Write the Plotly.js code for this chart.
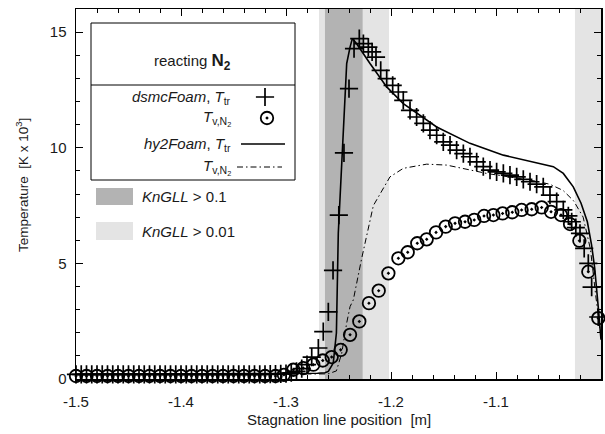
<!DOCTYPE html>
<html>
<head>
<meta charset="utf-8">
<script src="https://cdn.plot.ly/plotly-3.0.1.min.js"></script>
<style>html,body{margin:0;padding:0;background:#fff}#chart{width:605px;height:434px}</style>
</head>
<body>
<div id="chart"></div>
<script>
// ---- data (temperatures in K x 10^3, position in m) ----
const dsmcTtrX = [-1.500,-1.495,-1.490,-1.485,-1.480,-1.475,-1.470,-1.465,-1.460,-1.455,-1.450,-1.445,-1.440,-1.435,-1.430,-1.425,-1.420,-1.415,-1.410,-1.405,-1.400,-1.395,-1.390,-1.385,-1.380,-1.375,-1.370,-1.365,-1.360,-1.355,-1.350,-1.345,-1.340,-1.335,-1.330,-1.325,-1.320,-1.315,-1.310,-1.305,-1.300,
  -1.295,-1.290,-1.285,-1.280,-1.2755,-1.2692,-1.2645,-1.2597,-1.2552,-1.2497,-1.2448,-1.2400,-1.2352,-1.2302,-1.2263,-1.2216,-1.2180,-1.2143,-1.2098,-1.2041,-1.1984,-1.1930,-1.1883,-1.1819,-1.1756,-1.1692,-1.1629,-1.1565,-1.1502,-1.1438,-1.1375,-1.1311,-1.1248,-1.1184,-1.1121,-1.1057,-1.0994,-1.0930,-1.0867,-1.0803,-1.0740,-1.0676,-1.0613,-1.0550,-1.0486,-1.0422,-1.0359,-1.0311,-1.0279,-1.0240,-1.0200,-1.0160,-1.0121,-1.0089,-1.0026];
const dsmcTtrY = [0.20,0.20,0.20,0.20,0.20,0.20,0.20,0.20,0.20,0.20,0.20,0.20,0.20,0.20,0.20,0.20,0.20,0.20,0.20,0.20,0.20,0.20,0.20,0.20,0.20,0.20,0.20,0.20,0.20,0.20,0.20,0.20,0.20,0.20,0.20,0.20,0.20,0.21,0.21,0.22,0.23,
  0.27,0.33,0.45,0.62,0.95,1.34,2.05,2.90,4.70,7.09,9.78,12.56,14.29,14.72,14.50,14.35,14.15,13.92,13.35,12.99,12.70,12.41,12.05,11.62,11.33,11.05,10.76,10.54,10.25,10.11,9.90,9.75,9.61,9.39,9.18,9.03,8.96,8.89,8.82,8.74,8.63,8.53,8.43,8.31,7.95,7.67,7.31,7.05,6.80,6.55,6.30,5.65,5.00,3.97,2.68];

const dsmcTvX = [-1.50,-1.49,-1.48,-1.47,-1.46,-1.45,-1.44,-1.43,-1.42,-1.41,-1.40,-1.39,-1.38,-1.37,-1.36,-1.35,-1.34,-1.33,-1.32,-1.31,
  -1.302,-1.293,-1.2835,-1.274,-1.265,-1.2565,-1.2479,-1.239,-1.2302,-1.221,-1.2117,-1.2025,-1.193,-1.1841,-1.175,-1.166,-1.1571,-1.1479,-1.139,-1.1295,-1.1207,-1.1114,-1.1025,-1.0937,-1.0845,-1.0756,-1.066,-1.0565,-1.0476,-1.0381,-1.0295,-1.0206,-1.0121,-1.0026];
const dsmcTvY = [0.13,0.13,0.13,0.13,0.13,0.13,0.13,0.13,0.13,0.13,0.13,0.13,0.13,0.13,0.13,0.13,0.13,0.13,0.13,0.13,
  0.18,0.40,0.47,0.62,0.80,0.95,1.26,1.91,2.49,3.28,3.82,4.57,5.22,5.48,5.87,6.04,6.34,6.59,6.73,6.80,6.88,7.05,7.09,7.16,7.21,7.31,7.34,7.42,7.23,7.09,6.70,5.98,4.64,2.63];

const hy2TtrX = [-1.5,-1.30,-1.27,-1.2629,-1.2597,-1.255,-1.252,-1.2502,-1.247,-1.2422,-1.239,-1.2368,-1.2327,-1.22,-1.2041,-1.1883,-1.1565,-1.1248,-1.093,-1.0613,-1.0454,-1.0359,-1.0264,-1.019,-1.013,-1.009,-1.006,-1.003,-1.0];
const hy2TtrY = [0.20,0.22,0.25,0.27,0.33,0.69,1.99,6.30,9.03,13.64,14.35,14.72,14.50,13.64,12.63,11.91,10.90,10.19,9.68,9.35,9.18,8.89,8.31,7.60,6.80,5.80,4.80,3.30,1.70];

const hy2TvX = [-1.5,-1.26,-1.252,-1.247,-1.2422,-1.239,-1.2359,-1.228,-1.2168,-1.2137,-1.201,-1.1883,-1.166,-1.147,-1.1248,-1.1089,-1.0613,-1.0486,-1.036,-1.026,-1.017,-1.010,-1.005,-1.0];
const hy2TvY = [0.20,0.22,0.35,1.10,2.42,3.13,3.42,5.20,7.50,7.74,8.74,9.11,9.29,9.25,9.03,8.89,8.55,8.42,8.15,7.70,7.00,5.60,3.60,1.80];

const knAbove01 = [[-1.2629, -1.2270]];
const knAbove001 = [[-1.2686, -1.2019], [-1.0248, -1.0]];

const xTickVals = [-1.5, -1.4, -1.3, -1.2, -1.1, -1.0];
const xTickText = ['-1.5', '-1.4', '-1.3', '-1.2', '-1.1', '-1'];
const yTickVals = [0, 5, 10, 15];
const yTickText = ['0', '5', '10', '15'];

// ---- styling ----
const FONT = 'Liberation Sans, Arial, Helvetica, sans-serif';
const TXT = '#1a1a1a';
const DARK = '#b3b3b3';
const LIGHT = '#e4e4e4';

// plot area in px: left 76, right 601, top 9, bottom 379
const L = 76, R = 601, T = 9, B = 379;
const px = v => (v - L) / (R - L);
const py = v => (B - v) / (B - T);

const plusMarker = {symbol: 'cross-thin-open', size: 13, color: '#000', line: {color: '#000', width: 1.7}};
const circMarker = {symbol: 'circle-open-dot', size: 12.5, color: '#000', line: {color: '#000', width: 1.8}};
const DASHDOT = '6px,3px,1.5px,3px';

const traces = [
  {x: hy2TtrX, y: hy2TtrY, mode: 'lines', line: {color: '#000', width: 1.6}, cliponaxis: false, hoverinfo: 'skip'},
  {x: hy2TvX, y: hy2TvY, mode: 'lines', line: {color: '#000', width: 1, dash: DASHDOT}, cliponaxis: false, hoverinfo: 'skip'},
  {x: dsmcTvX, y: dsmcTvY, mode: 'markers', marker: circMarker, cliponaxis: false},
  {x: dsmcTtrX, y: dsmcTtrY, mode: 'markers', marker: plusMarker, cliponaxis: false},
  // legend sample markers (overlay axes in plot-fraction units)
  {x: [px(265)], y: [py(97)], xaxis: 'x2', yaxis: 'y2', mode: 'markers', marker: plusMarker, cliponaxis: false},
  {x: [px(267)], y: [py(118)], xaxis: 'x2', yaxis: 'y2', mode: 'markers', marker: circMarker, cliponaxis: false}
];

const shapes = [];
knAbove001.forEach(b => shapes.push({type: 'rect', xref: 'x', yref: 'paper', x0: b[0], x1: b[1], y0: 0, y1: 1, fillcolor: LIGHT, line: {width: 0}, layer: 'below'}));
knAbove01.forEach(b => shapes.push({type: 'rect', xref: 'x', yref: 'paper', x0: b[0], x1: b[1], y0: 0, y1: 1, fillcolor: DARK, line: {width: 0}, layer: 'below'}));
// legend box
shapes.push({type: 'rect', xref: 'paper', yref: 'paper', x0: px(91), x1: px(295), y0: py(180), y1: py(23), fillcolor: '#fff', line: {color: '#000', width: 1}, layer: 'below'});
shapes.push({type: 'line', xref: 'paper', yref: 'paper', x0: px(91), x1: px(295), y0: py(85), y1: py(85), line: {color: '#000', width: 1}, layer: 'below'});
shapes.push({type: 'line', xref: 'paper', yref: 'paper', x0: px(241), x1: px(285), y0: py(144), y1: py(144), line: {color: '#000', width: 1.6}});
shapes.push({type: 'line', xref: 'paper', yref: 'paper', x0: px(237), x1: px(282), y0: py(167), y1: py(167), line: {color: '#000', width: 1, dash: DASHDOT}});
shapes.push({type: 'rect', xref: 'paper', yref: 'paper', x0: px(96), x1: px(133), y0: py(205), y1: py(188), fillcolor: DARK, line: {width: 0}});
shapes.push({type: 'rect', xref: 'paper', yref: 'paper', x0: px(96), x1: px(133), y0: py(240), y1: py(222), fillcolor: LIGHT, line: {width: 0}});

const ann = (text, x, y, xanchor, extra) => Object.assign({text, x, y, xref: 'paper', yref: 'paper', xanchor, yanchor: 'middle', showarrow: false, font: {family: FONT, size: 15, color: TXT}}, extra || {});
const annotations = [
  ann('reacting <b><span style="font-size:17px">N<sub>2</sub></span></b>', px(152), py(62), 'left'),
  ann('<i>dsmcFoam</i>, <i>T</i><sub>tr</sub>', px(233), py(97), 'right'),
  ann('<i>T</i><sub>v,N<sub>2</sub></sub>', px(233), py(118), 'right'),
  ann('<i>hy2Foam</i>, <i>T</i><sub>tr</sub>', px(233), py(144), 'right'),
  ann('<i>T</i><sub>v,N<sub>2</sub></sub>', px(233), py(167), 'right'),
  ann('<i>KnGLL</i> &gt; 0.1', px(140), py(197), 'left'),
  ann('<i>KnGLL</i> &gt; 0.01', px(140), py(231), 'left'),
  ann('Stagnation line position \u00a0[m]', px(338.5), py(419), 'center'),
  ann('Temperature \u00a0[K x 10<sup>3</sup>]', px(22), py(185), 'center', {textangle: -90, font: {family: FONT, size: 13.5, color: TXT}})
];

const axisCommon = {
  showline: true, linecolor: '#000', linewidth: 1.5, mirror: 'ticks',
  ticks: 'inside', ticklen: 7, tickwidth: 1, tickcolor: '#000',
  showgrid: false, zeroline: false, fixedrange: true,
  tickfont: {family: FONT, size: 15, color: TXT}
};

const layout = {
  width: 605, height: 434,
  margin: {l: L, r: 605 - R, t: T, b: 434 - B, pad: 0},
  paper_bgcolor: '#fff', plot_bgcolor: 'rgba(0,0,0,0)',
  showlegend: false,
  xaxis: Object.assign({}, axisCommon, {range: [-1.5, -1.0], tickmode: 'array', tickvals: xTickVals, ticktext: xTickText, ticklabelstandoff: 8,
    minor: {tickmode: 'linear', tick0: -1.5, dtick: 0.02, ticks: 'inside', ticklen: 4, tickcolor: '#000', showgrid: false}}),
  yaxis: Object.assign({}, axisCommon, {range: [0, 16], tickmode: 'array', tickvals: yTickVals, ticktext: yTickText, ticklabelstandoff: 5,
    minor: {tickmode: 'linear', tick0: 0, dtick: 1, ticks: 'inside', ticklen: 4, tickcolor: '#000', showgrid: false}}),
  xaxis2: {overlaying: 'x', range: [0, 1], visible: false, fixedrange: true, anchor: 'y2'},
  yaxis2: {overlaying: 'y', range: [0, 1], visible: false, fixedrange: true, anchor: 'x2'},
  shapes, annotations
};

Plotly.newPlot('chart', traces, layout, {staticPlot: true, displayModeBar: false});
</script>
</body>
</html>
